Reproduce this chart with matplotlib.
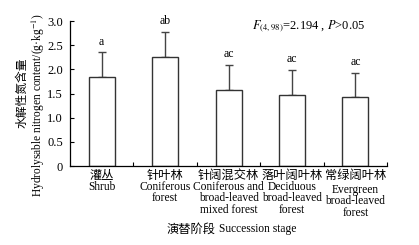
import matplotlib
matplotlib.use("Agg")
import matplotlib.pyplot as plt
import matplotlib.transforms as mtransforms

cn_labels = ["灌丛", "针叶林", "针阔混交林", "落叶阔叶林", "常绿阔叶林"]
en_labels = ["Shrub", "Coniferous\nforest", "Coniferous and\nbroad-leaved\nmixed forest",
             "Deciduous\nbroad-leaved\nforest", "Evergreen\nbroad-leaved\nforest"]
means = [1.85, 2.25, 1.57, 1.48, 1.42]
errs = [0.50, 0.52, 0.52, 0.51, 0.51]
letters = ["a", "ab", "ac", "ac", "ac"]
yticks = [0, 0.5, 1.0, 1.5, 2.0, 2.5, 3.0]
ytick_labels = ["0", "0.5", "1.0", "1.5", "2.0", "2.5", "3.0"]

plt.rcParams['font.family'] = ['Liberation Serif', 'Noto Sans CJK SC']
plt.rcParams['mathtext.fontset'] = 'stix'

fig = plt.figure(figsize=(4.19, 2.45), dpi=100)
ax = fig.add_axes([0.167, 0.322, 0.757, 0.592])

x = list(range(len(means)))
ax.bar(x, means, width=0.41, color='white', edgecolor='#333333', linewidth=1.0, zorder=2)
ax.errorbar(x, means, yerr=[[0]*len(errs), errs], fmt='none', ecolor='#444444',
            elinewidth=1.0, capsize=3, capthick=1.0, zorder=1)
for xi, m, e, l in zip(x, means, errs, letters):
    ax.text(xi, m + e + 0.1, l, ha='center', va='bottom', fontsize=8.5)

ax.set_xlim(-0.5, 4.5)
ax.set_ylim(0, 3.0)
ax.set_yticks(yticks)
ax.set_yticklabels(ytick_labels, fontsize=9)
ax.set_xticks([0.5, 1.5, 2.5, 3.5, 4.5])
ax.set_xticklabels([])
ax.tick_params(axis='both', direction='in', length=3, width=0.8)
ax.tick_params(axis='y', pad=5)
for s in ['top', 'right']:
    ax.spines[s].set_visible(False)
for s in ['left', 'bottom']:
    ax.spines[s].set_linewidth(0.9)

trans = mtransforms.blended_transform_factory(ax.transData, fig.transFigure)
for xi, cn, en in zip(x, cn_labels, en_labels):
    ax.text(xi, 1 - 175/245, cn, transform=trans, ha='center', va='center',
            fontsize=8.8, family='Noto Sans CJK SC', fontweight='medium')
    dy = 3/245 if xi == 4 else 0
    ax.text(xi, 1 - 181/245 - dy, en, transform=trans, ha='center', va='top',
            fontsize=8.3, linespacing=0.92)

fig.text(0.515, 1 - 229/245, "演替阶段", ha='right', va='center', fontsize=8.8,
         family='Noto Sans CJK SC', fontweight='medium')
fig.text(0.522, 1 - 229/245, "Succession stage", ha='left', va='center', fontsize=8.3)

fig.text(22/419, 1 - 93/245, "水解性氮含量", rotation=90, ha='center', va='center',
         fontsize=8.5, family='Noto Sans CJK SC', fontweight='medium')
fig.text(38/419, 1 - 105/245, "Hydrolysable nitrogen content/(g·kg$^{-1}$)", rotation=90,
         ha='center', va='center', fontsize=8.3)

ax.text(0.575, 0.965, r"$F_{(4,98)}$=2.194 , $P$>0.05", transform=ax.transAxes,
        ha='left', va='center', fontsize=9)

fig.savefig("out.png", dpi=100)
